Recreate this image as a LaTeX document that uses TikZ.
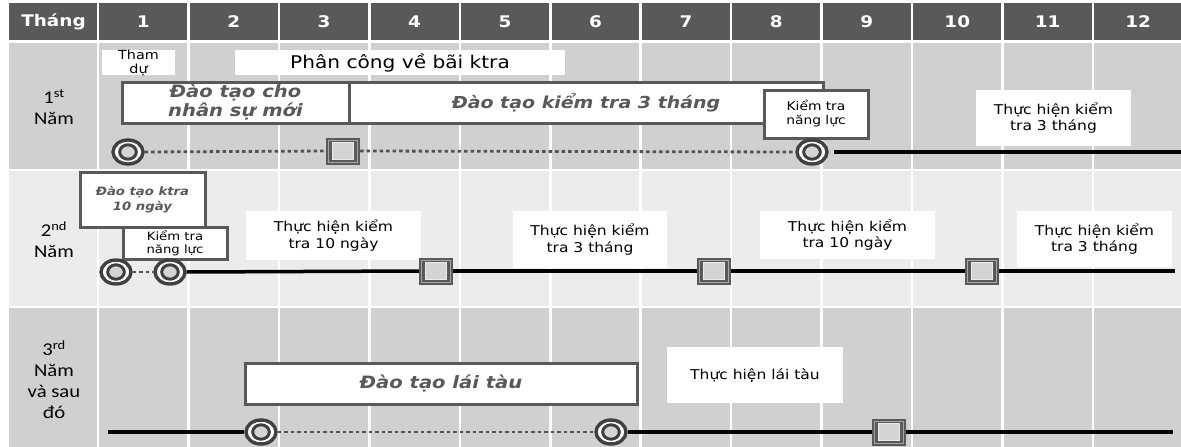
\documentclass[tikz,border=0pt]{standalone}
\usepackage{fontspec}
\setmainfont{DejaVu Sans}[FakeStretch=1.15]
\newfontfamily\lblfont{Carlito}[FakeStretch=1.15]
\usetikzlibrary{shapes.geometric}

\definecolor{headgray}{HTML}{595959}
\definecolor{rowdark}{HTML}{D0D0D0}
\definecolor{rowlight}{HTML}{ECECEC}
\definecolor{boxline}{HTML}{595959}
\definecolor{markdark}{HTML}{404040}
\definecolor{markin}{HTML}{D4D4D4}

\newcommand\setfs[2]{\fontsize{#1}{#2}\selectfont}

\tikzset{
  headtxt/.style={text=white, font=\setfs{16}{18}\bfseries, inner sep=0},
  yearlbl/.style={font=\lblfont\setfs{18}{21}, align=center, inner sep=0},
  whitebox/.style={fill=white, inner sep=0, align=center},
  framebox/.style={draw=boxline, line width=3, fill=white, inner sep=0, align=center},
  bigtxt/.style={text=boxline, font=\setfs{17}{19}\bfseries\itshape},
  smalltxt/.style={font=\setfs{12}{14}},
  midtxt/.style={font=\setfs{13.5}{16.5}},
  ringmark/.style={ellipse, minimum width=30, minimum height=24, inner sep=0,
    draw=markdark, line width=3.4, fill=white,
    path picture={\draw[markdark, line width=3, fill=markin]
      (path picture bounding box.center) ellipse [x radius=8.3, y radius=7.2];}},
  squaremark/.style={rectangle, minimum width=34, minimum height=27, inner sep=0,
    fill=headgray,
    path picture={
      \draw[gray!70, line width=0.6] ([xshift=2.5,yshift=2.5]path picture bounding box.south west)
        rectangle ([xshift=-2.5,yshift=-2.5]path picture bounding box.north east);
      \draw[white!85!gray, line width=0.8, fill=markin]
        ([xshift=-10.5,yshift=-8.5]path picture bounding box.center)
        rectangle ([xshift=10.5,yshift=8.5]path picture bounding box.center);}},
  solidline/.style={line width=3.5, black},
  dotline/.style={line width=2.8, markdark!90, dash pattern=on 3.5 off 3}
}

\begin{document}
\begin{tikzpicture}[x=1pt, y=-1pt]
\useasboundingbox (0,0) rectangle (1181,447);

% table background: header band and three year rows
\fill[headgray] (9,3) rectangle (1181,40);
\fill[rowdark]  (9,43) rectangle (1181,169);
\fill[rowlight] (9,171) rectangle (1181,306);
\fill[rowdark]  (9,308) rectangle (1181,447);
% white column separators
\foreach \k in {0,...,11}
  \draw[white, line width=2.6] ({98+\k*90.45},0) -- ({98+\k*90.45},447);

% header labels
\node[headtxt] (h0) at (53.5,21.5) {Tháng};
\foreach \k in {1,...,12}
  \node[headtxt] (h\k) at ({98+(\k-0.5)*90.45},21.5) {\k};

% year labels
\node[yearlbl] (y1) at (54,107) {1\textsuperscript{st}\\Năm};
\node[yearlbl] (y2) at (54,240) {2\textsuperscript{nd}\\Năm};
\node[yearlbl] (y3) at (54,380) {3\textsuperscript{rd}\\Năm\\và sau\\đó};

% ---- year 1 ----
\node[whitebox, minimum width=73, minimum height=25, font=\setfs{12.5}{14}] (attend) at (138.5,62.5) {Tham\\dự};
\node[whitebox, minimum width=330, minimum height=25, font=\setfs{17.5}{20}] (assign) at (400,62.5) {Phân công về bãi ktra};
\node[framebox, minimum width=474, minimum height=41, bigtxt, font=\setfs{16.5}{19}\bfseries\itshape] (train3) at (586,102.5) {Đào tạo kiểm tra 3 tháng};
\node[framebox, minimum width=227, minimum height=41, bigtxt] (newstaff) at (235.5,102.5) {Đào tạo cho\\nhân sự mới};
\node[framebox, minimum width=104, minimum height=48, smalltxt] (check1) at (816,114) {Kiểm tra\\năng lực};
\node[whitebox, minimum width=155, minimum height=56, midtxt] (do1) at (1053.5,118) {Thực hiện kiểm\\tra 3 tháng};

\node[ringmark] (r1a) at (128,152) {};
\node[squaremark] (r1b) at (343,151) {};
\node[ringmark] (r1c) at (812,152) {};
\coordinate (r1end) at (1181,152);
\draw[dotline] (r1a.east) -- (r1b.west);
\draw[dotline] (r1b.east) -- (r1c.west);
\draw[solidline, shorten <=5] (r1c.east) -- (r1end);

% ---- year 2 ----
\node[framebox, minimum width=125, minimum height=55, text=boxline, font=\setfs{11.5}{15}\bfseries\itshape] (train10) at (142.5,199.5) {Đào tạo ktra\\10 ngày};
\node[framebox, minimum width=104, minimum height=32, font=\setfs{11.5}{13}] (check2) at (175,243) {Kiểm tra\\năng lực};
\node[whitebox, minimum width=175, minimum height=49, midtxt] (do2a) at (333.5,235.5) {Thực hiện kiểm\\tra 10 ngày};
\node[whitebox, minimum width=154, minimum height=57, midtxt] (do2b) at (590,239.5) {Thực hiện kiểm\\tra 3 tháng};
\node[whitebox, minimum width=175, minimum height=48, midtxt] (do2c) at (847.5,235) {Thực hiện kiểm\\tra 10 ngày};
\node[whitebox, minimum width=155, minimum height=56, midtxt] (do2d) at (1094.5,239) {Thực hiện kiểm\\tra 3 tháng};

\node[ringmark] (r2a) at (116,272) {};
\node[ringmark] (r2b) at (170,272) {};
\node[squaremark] (r2c) at (436,271) {};
\node[squaremark] (r2d) at (714,271) {};
\node[squaremark] (r2e) at (982,271) {};
\coordinate (r2end) at (1175,271);
\draw[dotline] (r2a.east) -- (r2b.west);
\draw[solidline] (r2b.east) -- (r2c.west);
\draw[solidline] (r2c.east) -- (r2d.west);
\draw[solidline] (r2d.east) -- (r2e.west);
\draw[solidline] (r2e.east) -- (r2end);

% ---- year 3 and after ----
\node[framebox, minimum width=392, minimum height=41, bigtxt] (drive) at (441,383.5) {Đào tạo lái tàu};
\node[whitebox, minimum width=176, minimum height=56, midtxt] (dodrive) at (755,375) {Thực hiện lái tàu};

\coordinate (r3start) at (108,432);
\node[ringmark] (r3a) at (261,432) {};
\node[ringmark] (r3b) at (611,432) {};
\node[squaremark] (r3c) at (889,432) {};
\coordinate (r3end) at (1173,432);
\draw[solidline] (r3start) -- (r3a.west);
\draw[dotline] (r3a.east) -- (r3b.west);
\draw[solidline] (r3b.east) -- (r3c.west);
\draw[solidline] (r3c.east) -- (r3end);
\end{tikzpicture}
\end{document}
